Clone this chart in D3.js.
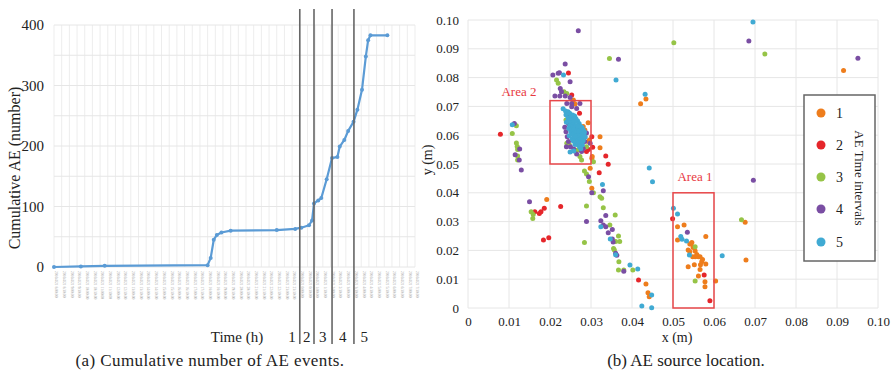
<!DOCTYPE html>
<html lang="en">
<head>
<meta charset="utf-8">
<script src="https://cdn.jsdelivr.net/npm/d3@7"></script>
<style>
  body { margin: 0; background: #fff; }
  .grid line { stroke: #e6e6e6; stroke-width: 1; }
  .vgrid line { stroke: #ededed; stroke-width: 1; }
</style>
</head>
<body>
<script>
// ---- panel (a): cumulative AE events ----
var timeH  = [0, 3.5, 6.6, 20.0, 20.4, 20.8, 21.2, 21.8, 23.0, 29.0, 31.4, 32.2, 33.2, 33.6, 33.85, 34.4, 34.8,
              35.5, 36.2, 36.9, 37.2, 37.8, 38.3, 39.0, 39.5, 40.1, 40.6, 40.9, 41.2, 43.4];
var cumAE  = [0, 1, 2, 3, 15, 45, 53, 57, 60, 61, 63, 65, 69, 77, 105, 110, 114,
              145, 180, 182, 199, 210, 225, 240, 260, 293, 348, 375, 383, 383];
var yTicksA = [0, 100, 200, 300, 400];
var intervalEdges = [32.0, 33.85, 36.2, 39.05];      // hours where intervals change
var intervalNames = ["1", "2", "3", "4", "5"];
var intervalLabelAt = [31.0, 32.9, 35.0, 37.6, 40.4];
var nSlots = 47;
var timeTicks = d3.range(nSlots + 1).map(function(i) {
  var h = 8 + i * 0.5, hh = Math.floor(h) % 24, mm = (h % 1) ? "30" : "00";
  return "2016/4/21 " + hh + ":" + mm + ":00";
});

// ---- panel (b): AE source locations per time interval ----
var xyTicks = [0, 0.01, 0.02, 0.03, 0.04, 0.05, 0.06, 0.07, 0.08, 0.09, 0.10];
var interval1 = [[0.0916,0.0825],[0.0434,0.0726],[0.0421,0.0709],[0.0257,0.0722],[0.0261,0.0708],[0.0293,0.0643],
  [0.0285,0.0618],[0.0322,0.0595],[0.0296,0.0583],[0.0322,0.0556],[0.0302,0.0520],[0.0298,0.0485],[0.0281,0.0630],
  [0.0294,0.0578],[0.0303,0.0526],[0.0302,0.0416],[0.0192,0.0377],[0.0434,0.0083],[0.0439,0.0053],[0.0442,0.0039],
  [0.0511,0.0282],[0.0527,0.0288],[0.0511,0.0236],[0.0541,0.0222],[0.0544,0.0222],[0.0546,0.0227],[0.0537,0.0201],
  [0.0541,0.0195],[0.0548,0.0178],[0.0554,0.0178],[0.0562,0.0178],[0.0566,0.0178],[0.0554,0.0198],[0.0570,0.0161],
  [0.0567,0.0150],[0.0537,0.0143],[0.0552,0.0150],[0.0566,0.0134],[0.0562,0.0111],[0.0580,0.0153],[0.0580,0.0248],
  [0.0578,0.0091],[0.0578,0.0074],[0.0604,0.0094],[0.0676,0.0298],[0.0678,0.0167],[0.0558,0.0186],[0.0572,0.0168],
  [0.0549,0.0210]];
var interval2 = [[0.0079,0.0603],[0.0245,0.0816],[0.0253,0.0740],[0.0272,0.0676],[0.0302,0.0595],[0.0304,0.0558],
  [0.0294,0.0550],[0.0289,0.0543],[0.0336,0.0528],[0.0342,0.0499],[0.0320,0.0470],[0.0163,0.0334],[0.0174,0.0328],
  [0.0178,0.0334],[0.0186,0.0346],[0.0226,0.0352],[0.0184,0.0236],[0.0197,0.0244],[0.0416,0.0097],[0.0499,0.0310],
  [0.0576,0.0115],[0.0590,0.0025]];
var interval3 = [[0.0345,0.0866],[0.0502,0.0921],[0.0724,0.0882],[0.0118,0.0633],[0.0108,0.0606],[0.0118,0.0573],
  [0.0120,0.0561],[0.0121,0.0550],[0.0121,0.0528],[0.0121,0.0514],[0.0216,0.0792],[0.0220,0.0780],[0.0241,0.0745],
  [0.0234,0.0751],[0.0241,0.0572],[0.0247,0.0567],[0.0267,0.0549],[0.0273,0.0526],[0.0277,0.0514],[0.0289,0.0560],
  [0.0306,0.0508],[0.0239,0.0653],[0.0284,0.0476],[0.0289,0.0465],[0.0296,0.0439],[0.0306,0.0400],[0.0322,0.0386],
  [0.0326,0.0381],[0.0330,0.0348],[0.0289,0.0354],[0.0284,0.0227],[0.0359,0.0323],[0.0346,0.0288],[0.0367,0.0250],
  [0.0370,0.0231],[0.0360,0.0231],[0.0355,0.0207],[0.0357,0.0201],[0.0368,0.0161],[0.0367,0.0132],[0.0380,0.0132],
  [0.0402,0.0132],[0.0154,0.0334],[0.0159,0.0325],[0.0158,0.0311],[0.0667,0.0306],[0.0554,0.0213],[0.0554,0.0094]];
var interval4 = [[0.0269,0.0963],[0.0367,0.0864],[0.0685,0.0927],[0.0951,0.0867],[0.0113,0.0641],[0.0126,0.0552],
  [0.0115,0.0532],[0.0125,0.0514],[0.0130,0.0479],[0.0237,0.0847],[0.0207,0.0809],[0.0220,0.0815],[0.0223,0.0817],
  [0.0249,0.0786],[0.0228,0.0751],[0.0212,0.0736],[0.0224,0.0736],[0.0237,0.0736],[0.0249,0.0731],[0.0241,0.0710],
  [0.0253,0.0710],[0.0273,0.0710],[0.0241,0.0676],[0.0253,0.0699],[0.0265,0.0693],[0.0239,0.0612],[0.0242,0.0595],
  [0.0245,0.0578],[0.0250,0.0560],[0.0265,0.0535],[0.0277,0.0543],[0.0289,0.0608],[0.0285,0.0578],[0.0281,0.0554],
  [0.0298,0.0572],[0.0272,0.0593],[0.0294,0.0456],[0.0696,0.0444],[0.0302,0.0400],[0.0330,0.0407],[0.0150,0.0369],
  [0.0289,0.0300],[0.0336,0.0321],[0.0324,0.0303],[0.0330,0.0288],[0.0336,0.0282],[0.0352,0.0273],[0.0342,0.0261],
  [0.0352,0.0240],[0.0354,0.0229],[0.0360,0.0190],[0.0363,0.0183],[0.0380,0.0128],[0.0535,0.0263],[0.0225,0.0762],
  [0.0245,0.0662],[0.0245,0.0640],[0.0236,0.0628],[0.0240,0.0560],[0.0258,0.0552]];
var interval5 = [[0.0232,0.0692],[0.0238,0.0684],[0.0244,0.0681],[0.0239,0.0671],[0.0248,0.0676],[0.0251,0.0666],
  [0.0244,0.0659],[0.0254,0.0661],[0.0260,0.0667],[0.0248,0.0652],[0.0257,0.0654],[0.0263,0.0658],[0.0251,0.0644],
  [0.0259,0.0647],[0.0267,0.0650],[0.0271,0.0641],[0.0256,0.0637],[0.0264,0.0634],[0.0248,0.0633],[0.0274,0.0631],
  [0.0261,0.0627],[0.0253,0.0625],[0.0268,0.0622],[0.0278,0.0627],[0.0258,0.0618],[0.0266,0.0614],[0.0274,0.0619],
  [0.0281,0.0618],[0.0251,0.0612],[0.0261,0.0609],[0.0271,0.0606],[0.0279,0.0609],[0.0255,0.0603],[0.0266,0.0600],
  [0.0274,0.0597],[0.0283,0.0601],[0.0259,0.0594],[0.0268,0.0591],[0.0278,0.0590],[0.0263,0.0585],[0.0272,0.0583],
  [0.0281,0.0581],[0.0265,0.0576],[0.0275,0.0574],[0.0268,0.0567],[0.0279,0.0566],[0.0272,0.0560],[0.0261,0.0568],
  [0.0254,0.0588],[0.0247,0.0598],[0.0286,0.0594],[0.0246,0.0623],[0.0284,0.0611],[0.0275,0.0553],[0.0258,0.0545],
  [0.0249,0.0542],[0.0240,0.0645],[0.0255,0.0670],[0.0269,0.0632],[0.0262,0.0596],[0.0270,0.0614],[0.0257,0.0580],
  [0.0233,0.0809],[0.0361,0.0792],[0.0432,0.0742],[0.0442,0.0486],[0.0450,0.0438],[0.0108,0.0636],
  [0.0695,0.0993],[0.0328,0.0429],[0.0324,0.0282],[0.0347,0.0240],[0.0360,0.0185],[0.0395,0.0149],[0.0414,0.0135],
  [0.0448,0.0045],[0.0424,0.0007],[0.0448,0.0001],[0.0501,0.0346],[0.0511,0.0326],[0.0519,0.0248],[0.0522,0.0239],
  [0.0533,0.0233],[0.0540,0.0184],[0.0620,0.0181]];
var seriesNames = ["1", "2", "3", "4", "5"];
var seriesColors = ["#ee7d1c", "#e5262b", "#96c447", "#7a4ea3", "#40aad3"];
var areas = [{name: "Area 1", x0: 0.05, x1: 0.06, y0: 0, y1: 0.04},
             {name: "Area 2", x0: 0.02, x1: 0.03, y0: 0.05, y1: 0.072}];

var SERIF = "Liberation Serif";
var svg = d3.select("body").append("svg").attr("width", 893).attr("height", 372)
  .attr("font-family", SERIF);

// ================= panel (a) =================
var xA = d3.scaleLinear().domain([0, nSlots]).range([54, 415]);
var yA = d3.scaleLinear().domain([0, 400]).range([267, 25]);
var gA = svg.append("g");

gA.append("g").attr("class", "vgrid").selectAll("line")
  .data(d3.range(nSlots + 1)).enter().append("line")
    .attr("x1", function(d){return xA(d);}).attr("x2", function(d){return xA(d);})
    .attr("y1", yA(400)).attr("y2", yA(0));
gA.append("g").attr("class", "grid").selectAll("line")
  .data(d3.range(0, 401, 50)).enter().append("line")
    .attr("x1", xA(0)).attr("x2", xA(nSlots))
    .attr("y1", function(d){return yA(d);}).attr("y2", function(d){return yA(d);});

// tiny timestamp labels under the axis
gA.append("g").selectAll("text")
  .data(timeTicks).enter().append("text")
    .attr("transform", function(d, i){return "translate(" + (xA(i) + 1.3) + ",271) rotate(90)";})
    .attr("font-size", 3.6).attr("fill", "#a0a0a0")
    .text(function(d){return d;});

var yAxisA = d3.axisLeft(yA).tickValues(yTicksA).tickSize(0).tickPadding(10);
gA.append("g").attr("transform", "translate(" + xA(0) + ",0)").call(yAxisA)
  .attr("font-family", SERIF)
  .call(function(g){ g.select(".domain").remove(); })
  .selectAll("text").attr("font-size", 15).attr("fill", "#222");

var pts = timeH.map(function(t, i){ return [t, cumAE[i]]; });
gA.append("path").datum(pts)
  .attr("fill", "none").attr("stroke", "#5b9bd5").attr("stroke-width", 2.2)
  .attr("stroke-linejoin", "round")
  .attr("d", d3.line().x(function(d){return xA(d[0]);}).y(function(d){return yA(d[1]);}));
gA.append("g").selectAll("circle")
  .data(pts).enter().append("circle")
    .attr("cx", function(d){return xA(d[0]);}).attr("cy", function(d){return yA(d[1]);})
    .attr("r", 2).attr("fill", "#5b9bd5");

gA.append("g").selectAll("line")
  .data(intervalEdges).enter().append("line")
    .attr("x1", function(d){return xA(d);}).attr("x2", function(d){return xA(d);})
    .attr("y1", 9).attr("y2", 344)
    .attr("stroke", "#666").attr("stroke-width", 1.6);

gA.append("g").selectAll("text")
  .data(intervalNames).enter().append("text")
    .attr("x", function(d, i){return xA(intervalLabelAt[i]);}).attr("y", 342)
    .attr("text-anchor", "middle").attr("font-size", 15).attr("fill", "#222")
    .text(function(d){return d;});
gA.append("text").attr("x", 237).attr("y", 342).attr("text-anchor", "middle")
  .attr("font-size", 15).attr("fill", "#222").text("Time (h)");
gA.append("text").attr("transform", "translate(20,168) rotate(-90)")
  .attr("text-anchor", "middle").attr("font-size", 16).attr("fill", "#222")
  .text("Cumulative AE (number)");
gA.append("text").attr("x", 210).attr("y", 366).attr("text-anchor", "middle")
  .attr("font-size", 17).attr("letter-spacing", 0.4).attr("fill", "#222")
  .text("(a) Cumulative number of AE events.");

// ================= panel (b) =================
var xB = d3.scaleLinear().domain([0, 0.1]).range([468, 878]);
var yB = d3.scaleLinear().domain([0, 0.1]).range([308, 20]);
var gB = svg.append("g");
var fmt = function(d){ return d === 0 ? "0" : d3.format(".2f")(d); };

gB.append("g").attr("class", "grid").selectAll("line")
  .data(xyTicks).enter().append("line")
    .attr("x1", function(d){return xB(d);}).attr("x2", function(d){return xB(d);})
    .attr("y1", yB(0.1)).attr("y2", yB(0));
gB.append("g").attr("class", "grid").selectAll("line")
  .data(xyTicks).enter().append("line")
    .attr("x1", xB(0)).attr("x2", xB(0.1))
    .attr("y1", function(d){return yB(d);}).attr("y2", function(d){return yB(d);});

gB.append("g").attr("transform", "translate(0," + yB(0) + ")")
  .call(d3.axisBottom(xB).tickValues(xyTicks).tickFormat(fmt).tickSize(0).tickPadding(9))
  .attr("font-family", SERIF)
  .call(function(g){ g.select(".domain").remove(); })
  .selectAll("text").attr("font-size", 13).attr("fill", "#222");
gB.append("g").attr("transform", "translate(" + xB(0) + ",0)")
  .call(d3.axisLeft(yB).tickValues(xyTicks).tickFormat(fmt).tickSize(0).tickPadding(9))
  .attr("font-family", SERIF)
  .call(function(g){ g.select(".domain").remove(); })
  .selectAll("text").attr("font-size", 13).attr("fill", "#222");

var allSeries = [interval1, interval2, interval3, interval4, interval5];
allSeries.forEach(function(s, i) {
  gB.append("g").selectAll("circle")
    .data(s).enter().append("circle")
      .attr("cx", function(d){return xB(d[0]);}).attr("cy", function(d){return yB(d[1]);})
      .attr("r", 2.5).attr("fill", seriesColors[i]);
});

areas.forEach(function(a) {
  gB.append("rect")
    .attr("x", xB(a.x0)).attr("y", yB(a.y1))
    .attr("width", xB(a.x1) - xB(a.x0)).attr("height", yB(a.y0) - yB(a.y1))
    .attr("fill", "none").attr("stroke", "#e8474a").attr("stroke-width", 1.5);
});
gB.append("text").attr("x", 695).attr("y", 181).attr("text-anchor", "middle")
  .attr("font-size", 13).attr("fill", "#e8393f").text("Area 1");
gB.append("text").attr("x", 519).attr("y", 96).attr("text-anchor", "middle")
  .attr("font-size", 13).attr("fill", "#e8393f").text("Area 2");

// legend
var lg = gB.append("g");
lg.append("rect").attr("x", 804).attr("y", 95).attr("width", 71).attr("height", 166)
  .attr("fill", "#fff").attr("stroke", "#666").attr("stroke-width", 1.5);
var legY = [113, 145, 177, 209, 242];
lg.selectAll("circle").data(seriesNames).enter().append("circle")
  .attr("cx", 821).attr("cy", function(d, i){return legY[i];})
  .attr("r", 4.5).attr("fill", function(d, i){return seriesColors[i];});
lg.selectAll("text.n").data(seriesNames).enter().append("text")
  .attr("x", 836).attr("y", function(d, i){return legY[i] + 5;})
  .attr("font-size", 14).attr("fill", "#222").text(function(d){return d;});
lg.append("text").attr("transform", "translate(855,178) rotate(90)")
  .attr("text-anchor", "middle").attr("font-size", 13).attr("fill", "#222")
  .text("AE Time intervals");

gB.append("text").attr("x", 677).attr("y", 342).attr("text-anchor", "middle")
  .attr("font-size", 14).attr("fill", "#222").text("x (m)");
gB.append("text").attr("transform", "translate(432,160) rotate(-90)")
  .attr("text-anchor", "middle").attr("font-size", 14).attr("fill", "#222").text("y (m)");
gB.append("text").attr("x", 686).attr("y", 366).attr("text-anchor", "middle")
  .attr("font-size", 17).attr("fill", "#222").text("(b) AE source location.");
</script>
</body>
</html>
